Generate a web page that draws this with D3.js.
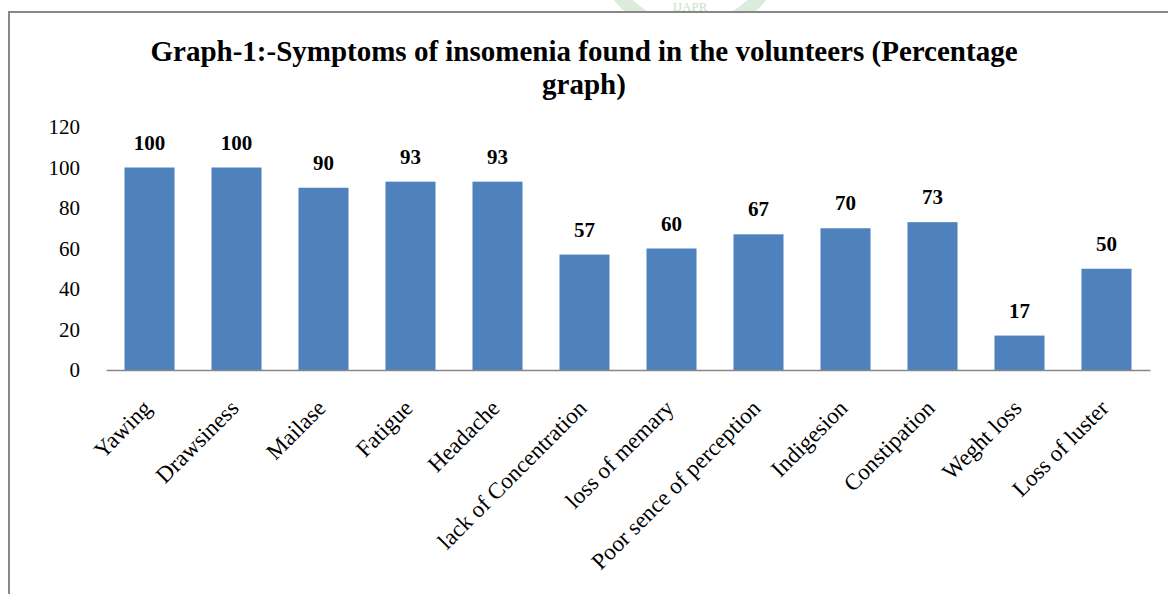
<!DOCTYPE html>
<html>
<head>
<meta charset="utf-8">
<script src="https://cdn.jsdelivr.net/npm/d3@7"></script>
<style>
  body { margin: 0; background: #fff; }
  svg { display: block; }
</style>
</head>
<body>
<svg id="chart"></svg>
<script>
// symptoms and % of volunteers
const categories = ["Yawing", "Drawsiness", "Mailase", "Fatigue", "Headache",
                    "lack of Concentration", "loss of memary", "Poor sence of perception",
                    "Indigesion", "Constipation", "Weght loss", "Loss of luster"]
const percents = [100, 100, 90, 93, 93, 57, 60, 67, 70, 73, 17, 50]
const yTicks = [0, 20, 40, 60, 80, 100, 120]
const titleLines = ["Graph-1:-Symptoms of insomenia found in the volunteers (Percentage", "graph)"]

const width = 1168, height = 594
const plot = {left: 106, right: 1150, top: 127, bottom: 370}

const svg = d3.select("#chart")
              .attr("width", width)
              .attr("height", height)

// faint watermark peeking above the frame
const wm = svg.append("g").attr("opacity", 0.35)
wm.append("circle")
  .attr("cx", 690).attr("cy", -60).attr("r", 90)
  .attr("fill", "none").attr("stroke", "#9cc79c").attr("stroke-width", 14)
wm.append("text")
  .attr("x", 690).attr("y", 11)
  .attr("text-anchor", "middle")
  .attr("font-family", "Liberation Serif").attr("font-size", 13)
  .attr("fill", "#6aa86a")
  .text("IJAPR")

// chart frame
svg.append("rect")
   .attr("x", 9).attr("y", 12)
   .attr("width", 1180).attr("height", 600)
   .attr("fill", "#fff")
   .attr("stroke", "#878787").attr("stroke-width", 2)

svg.selectAll(".title")
   .data(titleLines)
   .join("text")
   .attr("class", "title")
   .attr("x", 584)
   .attr("y", (d, i) => 61 + i * 33)
   .attr("text-anchor", "middle")
   .attr("font-family", "Liberation Serif")
   .attr("font-weight", "bold")
   .attr("font-size", 29)
   .text(d => d)

const x = d3.scaleBand()
            .domain(categories)
            .range([plot.left, plot.right])
            .paddingInner(0.425)
            .paddingOuter(0.2125)

const y = d3.scaleLinear()
            .domain([0, 120])
            .range([plot.bottom, plot.top])

// y axis, labels only
const yAxis = svg.append("g")
                 .attr("transform", `translate(${plot.left},0)`)
                 .call(d3.axisLeft(y).tickValues(yTicks).tickSize(0).tickPadding(26))
yAxis.select(".domain").remove()
yAxis.selectAll("text")
     .attr("font-family", "Liberation Serif")
     .attr("font-size", 21)
     .attr("fill", "#000")

svg.selectAll(".bar")
   .data(categories)
   .join("rect")
   .attr("class", "bar")
   .attr("x", d => x(d))
   .attr("width", x.bandwidth())
   .attr("y", (d, i) => y(percents[i]))
   .attr("height", (d, i) => y(0) - y(percents[i]))
   .attr("fill", "#4F81BD")

svg.selectAll(".val")
   .data(categories)
   .join("text")
   .attr("class", "val")
   .attr("x", d => x(d) + x.bandwidth() / 2)
   .attr("y", (d, i) => y(percents[i]) - 18)
   .attr("text-anchor", "middle")
   .attr("font-family", "Liberation Serif")
   .attr("font-weight", "bold")
   .attr("font-size", 21)
   .text((d, i) => percents[i])

// x axis
const xAxis = svg.append("g")
                 .attr("transform", `translate(0,${plot.bottom})`)
                 .call(d3.axisBottom(x).tickSize(0).tickSizeOuter(0))
xAxis.select(".domain")
     .attr("stroke", "#878787")
     .attr("stroke-width", 1.5)
xAxis.selectAll("text")
     .attr("font-family", "Liberation Serif")
     .attr("font-size", 23)
     .attr("fill", "#000")
     .attr("text-anchor", "end")
     .attr("dy", "0.7em")
     .attr("transform", "translate(-10,26) rotate(-45)")
</script>
</body>
</html>
